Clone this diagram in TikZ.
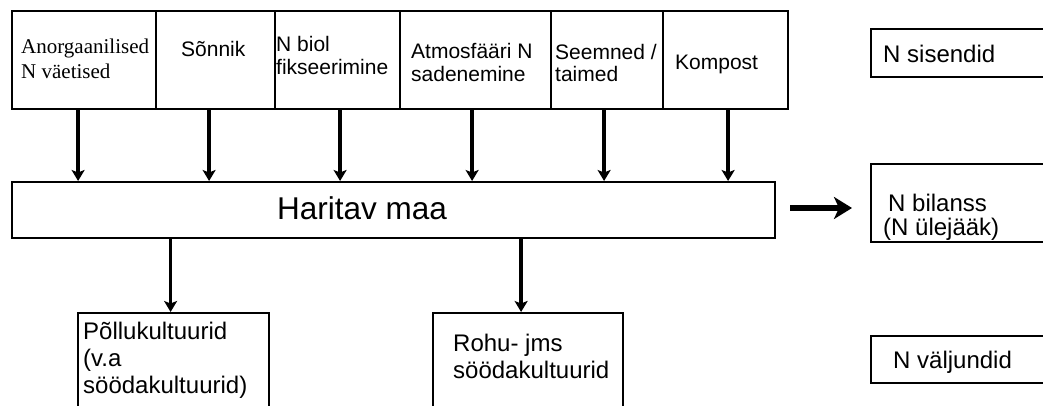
\documentclass[tikz,border=0pt]{standalone}
\usepackage{fontspec}
\setmainfont{Liberation Sans}
\newfontfamily\tnr{Liberation Serif}
\usetikzlibrary{arrows.meta}
\begin{document}
\begin{tikzpicture}[x=1pt,y=-1pt,
  box/.style={draw,line width=2.2pt,inner sep=0pt,anchor=north west},
  small/.style={anchor=base west,inner sep=0pt,align=left,font=\fontsize{21}{23.5}\selectfont},
  big/.style={anchor=base west,inner sep=0pt,align=left,font=\fontsize{24}{26.5}\selectfont},
  arr/.style={line width=3.6pt,-{Stealth[length=11pt,width=13pt,inset=2.5pt]}},
  thick arr/.style={line width=5.5pt,-{Stealth[length=18pt,width=22pt,inset=5pt]}},
]
\useasboundingbox (0,0) rectangle (1043,406);
\clip (0,0) rectangle (1043,406);

% top input boxes
\node[box,minimum width=144pt,minimum height=98pt] (b1) at (11,10) {};
\node[box,minimum width=119pt,minimum height=98pt] (b2) at (155,10) {};
\node[box,minimum width=125pt,minimum height=98pt] (b3) at (274,10) {};
\node[box,minimum width=151pt,minimum height=98pt] (b4) at (399,10) {};
\node[box,minimum width=112pt,minimum height=98pt] (b5) at (550,10) {};
\node[box,minimum width=125pt,minimum height=98pt] (b6) at (662,10) {};

% labels (anchor = baseline of the last line)
\node[small,font=\tnr\fontsize{21}{25}\selectfont] (t1) at (21,79) {Anorgaanilised\\N väetised};
\node[small] (t2) at (181,57) {Sõnnik};
\node[small] (t3) at (276,75) {N biol\\fikseerimine};
\node[small] (t4) at (411,82) {Atmosfääri N\\sadenemine};
\node[small,font=\fontsize{21}{22.5}\selectfont] (t5) at (555,82) {Seemned /\\taimed};
\node[small] (t6) at (675,70) {Kompost};

% main box
\node[box,minimum width=763pt,minimum height=56pt] (hm) at (11,181) {};
\node[anchor=base west,inner sep=0pt,font=\fontsize{31.5}{33}\selectfont] (hmt) at (277,219) {Haritav maa};

% right legend boxes
\node[box,minimum width=200pt,minimum height=48pt] (sis) at (870,28) {};
\node[big] (sist) at (883,63) {N sisendid};
\node[box,minimum width=200pt,minimum height=78pt] (bil) at (870,163) {};
\node[big,font=\fontsize{24}{24}\selectfont] (bilt) at (883,235) {\hspace*{5pt}N bilanss\\(N ülejääk)};
\node[box,minimum width=200pt,minimum height=47pt] (val) at (870,335) {};
\node[big] (valt) at (893,368) {N väljundid};

% output boxes
\node[box,minimum width=191pt,minimum height=120pt] (pol) at (77,312) {};
\node[big,font=\fontsize{24}{27}\selectfont] (polt) at (83,393) {Põllukultuurid\\(v.a\\söödakultuurid)};
\node[box,minimum width=190pt,minimum height=120pt] (roh) at (432,312) {};
\node[big] (roht) at (453,378) {Rohu- jms\\söödakultuurid};

% input arrows
\draw[arr] ([xshift=-6pt]b1.south) -- ([xshift=-6pt]b1.south |- hm.north);
\draw[arr] ([xshift=-6.5pt]b2.south) -- ([xshift=-6.5pt]b2.south |- hm.north);
\draw[arr] ([xshift=2.5pt]b3.south) -- ([xshift=2.5pt]b3.south |- hm.north);
\draw[arr] ([xshift=-3.5pt]b4.south) -- ([xshift=-3.5pt]b4.south |- hm.north);
\draw[arr] ([xshift=-3pt]b5.south) -- ([xshift=-3pt]b5.south |- hm.north);
\draw[arr] ([xshift=2.5pt]b6.south) -- ([xshift=2.5pt]b6.south |- hm.north);

% output arrows
\draw[arr] ([xshift=-3pt]hm.south -| pol.north) -- ([xshift=-3pt]pol.north);
\draw[arr] ([xshift=-7pt]hm.south -| roh.north) -- ([xshift=-7pt]roh.north);

% balance arrow
\draw[thick arr,shorten <=14pt,shorten >=18pt] (hm.east |- 0,208) -- (bil.west |- 0,208);
\end{tikzpicture}
\end{document}
